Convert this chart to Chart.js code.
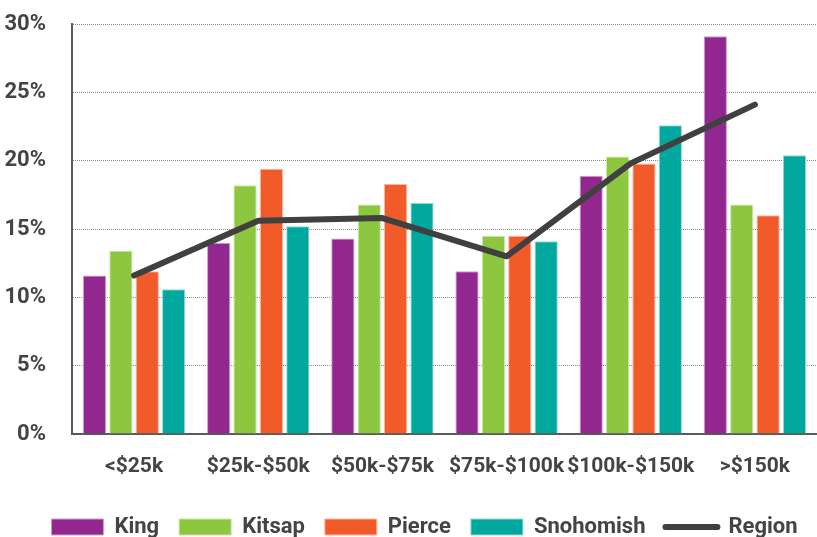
<!DOCTYPE html>
<html>
<head>
<meta charset="utf-8">
<script src="https://cdn.jsdelivr.net/npm/chart.js@4/dist/chart.umd.min.js"></script>
<style>
  html, body { margin: 0; padding: 0; background: #fff; }
  #wrap { width: 817px; height: 537px; position: relative; }
</style>
</head>
<body>
<div id="wrap"><canvas id="c"></canvas></div>
<script>
const categories = ['<$25k', '$25k-$50k', '$50k-$75k', '$75k-$100k', '$100k-$150k', '>$150k'];
const king      = [11.6, 14.0, 14.3, 11.9, 18.9, 29.1];
const kitsap    = [13.4, 18.2, 16.8, 14.5, 20.3, 16.8];
const pierce    = [11.9, 19.4, 18.3, 14.5, 19.8, 16.0];
const snohomish = [10.6, 15.2, 16.9, 14.1, 22.6, 20.4];
const region    = [11.6, 15.6, 15.8, 13.0, 19.8, 24.1];
const yTicks = [0, 5, 10, 15, 20, 25, 30];

const FONT = "Roboto, 'Liberation Sans', sans-serif";
const TXT = '#444444';

function bar(label, data, color, border) {
  return { type: 'bar', label, data, backgroundColor: color, borderColor: border, borderWidth: 1, order: 1,
           categoryPercentage: 0.85, barPercentage: 0.88 };
}

const legendShift = {
  id: 'legendShift',
  afterLayout(chart) {
    const lg = chart.legend;
    if (!lg) return;
    const h = lg.bottom - lg.top;
    lg.top = 496; lg.bottom = 496 + h;
    lg.left += 16; lg.right += 16;
  }
};

new Chart(document.getElementById('c'), {
  plugins: [legendShift],
  data: {
    labels: categories,
    datasets: [
      bar('King', king, '#92278f', '#c9a0c8'),
      bar('Kitsap', kitsap, '#8dc63f', '#cbe6a6'),
      bar('Pierce', pierce, '#f15a29', '#f9b8a0'),
      bar('Snohomish', snohomish, '#00a79d', '#93d9d4'),
      { type: 'line', label: 'Region', data: region, borderColor: '#404040', backgroundColor: '#404040',
        borderWidth: 6, pointRadius: 0, pointHoverRadius: 0, tension: 0, borderCapStyle: 'round', borderJoinStyle: 'round', order: 0 }
    ]
  },
  options: {
    responsive: true,
    maintainAspectRatio: false,
    animation: false,
    layout: { autoPadding: false, padding: { left: 0, right: 0, top: 0, bottom: 0 } },
    plugins: {
      tooltip: { enabled: false },
      legend: {
        position: 'bottom',
        labels: {
          usePointStyle: true,
          pointStyleWidth: 52,
          boxHeight: 16,
          padding: 20,
          color: TXT,
          font: { family: FONT, size: 22, weight: 'bold' },
          sort: (a, b) => a.datasetIndex - b.datasetIndex,
          generateLabels(chart) {
            const items = Chart.defaults.plugins.legend.labels.generateLabels(chart);
            items.forEach(it => {
              const ds = chart.data.datasets[it.datasetIndex];
              if (ds.type === 'line') {
                it.pointStyle = 'line'; it.strokeStyle = '#404040'; it.lineWidth = 6; it.lineCap = 'round';
              } else {
                it.pointStyle = 'rect'; it.strokeStyle = ds.borderColor; it.lineWidth = 1; it.fillStyle = ds.backgroundColor;
              }
            });
            return items;
          }
        }
      }
    },
    scales: {
      x: {
        grid: { display: false, drawTicks: false },
        border: { display: true, color: '#5a5a5a', width: 2 },
        ticks: { color: TXT, font: { family: FONT, size: 21, weight: 'bold' }, padding: 20, maxRotation: 0, autoSkip: false },
        afterFit(s) { s.height = 51; }
      },
      y: {
        min: 0, max: 30,
        afterBuildTicks(s) { s.ticks = yTicks.map(v => ({ value: v })); },
        grid: { color: '#8a8a8a', lineWidth: 1, drawTicks: false },
        border: { display: true, color: '#5a5a5a', width: 2, dash: [1, 1] },
        ticks: { color: TXT, font: { family: FONT, size: 22, weight: 'bold' }, padding: 26, callback: v => v + '%' },
        afterFit(s) { s.width = 72; s.paddingTop = 24; s.paddingBottom = 0; }
      }
    }
  }
});
</script>
</body>
</html>
